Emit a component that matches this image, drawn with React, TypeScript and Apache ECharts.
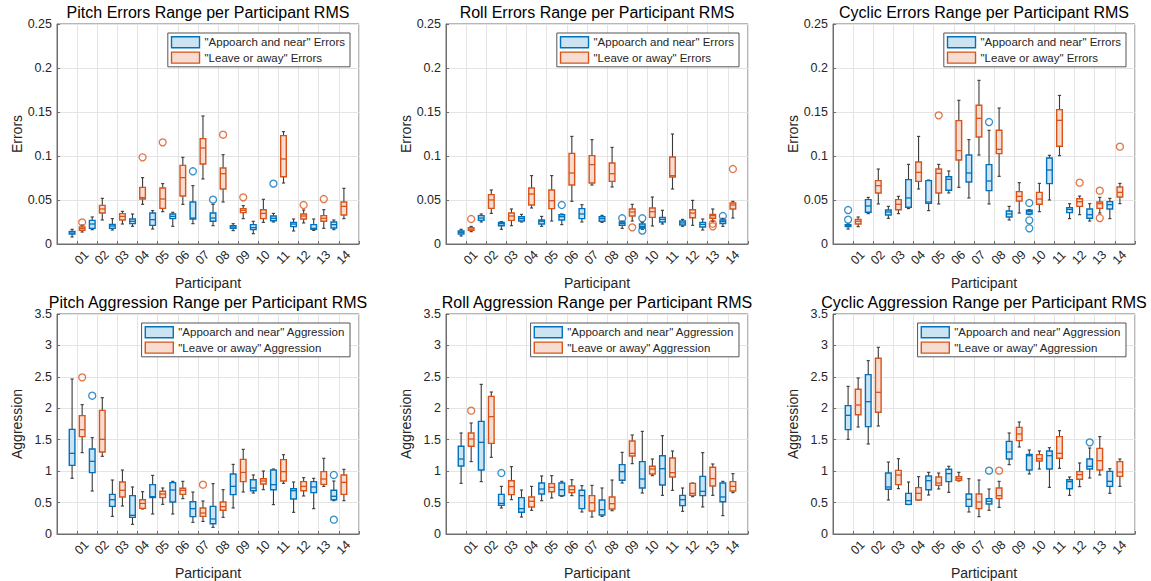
import React, { useEffect, useRef } from 'react';
import * as echarts from 'echarts';

const participants = ['01', '02', '03', '04', '05', '06', '07', '08', '09', '10', '11', '12', '13', '14'];

// each row: [min, q1, median, q3, max]
const pitchErrApp = [
  [0.008, 0.0114, 0.0125, 0.0144, 0.0167], [0.0163, 0.0178, 0.0227, 0.0269, 0.0307], [0.0159, 0.0178, 0.0205, 0.0223, 0.0288],
  [0.0201, 0.0231, 0.0258, 0.0284, 0.0341], [0.017, 0.0212, 0.0277, 0.0352, 0.0379], [0.0201, 0.0288, 0.0314, 0.0341, 0.036],
  [0.0231, 0.0284, 0.0295, 0.0477, 0.0663], [0.0208, 0.0258, 0.0295, 0.0352, 0.0451], [0.0152, 0.0178, 0.0193, 0.0208, 0.0231],
  [0.0117, 0.0163, 0.0186, 0.022, 0.0258], [0.025, 0.0265, 0.0292, 0.0318, 0.0348], [0.0148, 0.0197, 0.0227, 0.0246, 0.0284],
  [0.0155, 0.0167, 0.0178, 0.022, 0.0284], [0.0163, 0.0182, 0.022, 0.025, 0.0273],
];
const pitchErrAppOut = [[7, 0.0826], [8, 0.0504], [11, 0.0686]];
const pitchErrLeave = [
  [0.0136, 0.0155, 0.0174, 0.0193, 0.0216], [0.0273, 0.0352, 0.0398, 0.0439, 0.0519], [0.0227, 0.0273, 0.0314, 0.0345, 0.0371],
  [0.0451, 0.0511, 0.0527, 0.0644, 0.0754], [0.0367, 0.0405, 0.0511, 0.0636, 0.0686], [0.0451, 0.0545, 0.0754, 0.0894, 0.0985],
  [0.0739, 0.0909, 0.1091, 0.1197, 0.1455], [0.0477, 0.0625, 0.0799, 0.0864, 0.1015], [0.0288, 0.0356, 0.0383, 0.0402, 0.0436],
  [0.0246, 0.0288, 0.0348, 0.039, 0.0508], [0.0693, 0.0765, 0.0966, 0.1231, 0.1277], [0.0239, 0.0284, 0.0318, 0.0341, 0.0386],
  [0.0178, 0.0258, 0.0292, 0.0322, 0.039], [0.0288, 0.033, 0.0428, 0.0477, 0.0633],
];
const pitchErrLeaveOut = [[1, 0.0246], [4, 0.0985], [5, 0.1155], [8, 0.1242], [9, 0.053], [12, 0.0443], [13, 0.0511]];

const rollErrApp = [
  [0.0091, 0.0114, 0.0133, 0.0148, 0.0167], [0.025, 0.0269, 0.0295, 0.0322, 0.0341], [0.0167, 0.0208, 0.0231, 0.0246, 0.0254],
  [0.025, 0.0261, 0.0288, 0.031, 0.0337], [0.0201, 0.0227, 0.0258, 0.0273, 0.0314], [0.022, 0.0273, 0.031, 0.0333, 0.0341],
  [0.025, 0.0288, 0.0341, 0.0402, 0.0447], [0.0246, 0.0258, 0.0288, 0.031, 0.0326], [0.0178, 0.0212, 0.0231, 0.025, 0.0261],
  [0.0167, 0.0182, 0.0201, 0.0227, 0.0246], [0.0227, 0.025, 0.028, 0.0303, 0.0383], [0.0201, 0.0216, 0.0239, 0.0261, 0.028],
  [0.0159, 0.0193, 0.0223, 0.0246, 0.0284], [0.0201, 0.0231, 0.0254, 0.0273, 0.0292],
];
const rollErrAppOut = [[6, 0.0443], [9, 0.0292], [10, 0.0292], [10, 0.0152], [14, 0.0318]];
const rollErrLeave = [
  [0.014, 0.0155, 0.017, 0.0186, 0.02], [0.0348, 0.0405, 0.05, 0.0561, 0.0614], [0.0208, 0.0269, 0.0318, 0.0352, 0.0398],
  [0.0409, 0.0443, 0.0568, 0.0636, 0.0777], [0.0261, 0.0402, 0.0492, 0.0614, 0.0777], [0.0485, 0.067, 0.0807, 0.103, 0.1223],
  [0.067, 0.0693, 0.0902, 0.1004, 0.1186], [0.0648, 0.0712, 0.0799, 0.092, 0.1098], [0.0261, 0.0318, 0.0364, 0.0398, 0.0451],
  [0.0205, 0.0303, 0.0367, 0.0409, 0.0534], [0.0625, 0.0761, 0.0777, 0.0989, 0.125], [0.0212, 0.0299, 0.0352, 0.039, 0.0496],
  [0.0258, 0.0292, 0.0322, 0.0337, 0.0398], [0.0295, 0.0398, 0.0443, 0.0466, 0.0485],
];
const rollErrLeaveOut = [[1, 0.0284], [9, 0.0189], [13, 0.0231], [13, 0.0201], [14, 0.0852]];

const cycErrApp = [
  [0.017, 0.0197, 0.0208, 0.022, 0.0227], [0.0345, 0.036, 0.0432, 0.0504, 0.053], [0.0292, 0.033, 0.0364, 0.0386, 0.0428],
  [0.0402, 0.0417, 0.0523, 0.0731, 0.0905], [0.0379, 0.0462, 0.0477, 0.072, 0.0727], [0.058, 0.061, 0.0735, 0.0765, 0.083],
  [0.0523, 0.0705, 0.0807, 0.1011, 0.1186], [0.0455, 0.0606, 0.0716, 0.0902, 0.1292], [0.0273, 0.0307, 0.0341, 0.0375, 0.0428],
  [0.0333, 0.0341, 0.0367, 0.0383, 0.039], [0.05, 0.0686, 0.0841, 0.0977, 0.1008], [0.0288, 0.0356, 0.0394, 0.0413, 0.0458],
  [0.0261, 0.0292, 0.0333, 0.0398, 0.0458], [0.0288, 0.0398, 0.0447, 0.0481, 0.0519],
];
const cycErrAppOut = [[1, 0.0386], [1, 0.0277], [8, 0.1386], [10, 0.0466], [10, 0.0269], [10, 0.0178]];
const cycErrLeave = [
  [0.0197, 0.0227, 0.0258, 0.028, 0.0307], [0.0455, 0.058, 0.0663, 0.072, 0.0852], [0.0345, 0.039, 0.0451, 0.0504, 0.0542],
  [0.0625, 0.0712, 0.0814, 0.0932, 0.1223], [0.0455, 0.058, 0.0803, 0.0852, 0.0905], [0.0644, 0.0955, 0.1061, 0.1402, 0.1633],
  [0.1011, 0.1216, 0.1428, 0.1576, 0.186], [0.0769, 0.1027, 0.1076, 0.1292, 0.1545], [0.0352, 0.0489, 0.0542, 0.0595, 0.0697],
  [0.0367, 0.0451, 0.0511, 0.0587, 0.0689], [0.1004, 0.111, 0.1405, 0.1527, 0.1689], [0.0333, 0.0428, 0.0481, 0.0515, 0.0545],
  [0.0352, 0.0405, 0.0458, 0.0477, 0.053], [0.0458, 0.0534, 0.0587, 0.0648, 0.0689],
];
const cycErrLeaveOut = [[5, 0.1462], [12, 0.0697], [13, 0.0606], [13, 0.0295], [14, 0.1106]];

const pitchAggApp = [
  [0.886, 1.092, 1.283, 1.665, 2.466], [0.684, 0.976, 1.156, 1.352, 1.533], [0.281, 0.44, 0.546, 0.631, 0.859],
  [0.154, 0.265, 0.297, 0.61, 0.748], [0.318, 0.578, 0.594, 0.785, 0.933], [0.318, 0.509, 0.7, 0.817, 0.838],
  [0.186, 0.276, 0.403, 0.514, 0.668], [0.106, 0.164, 0.239, 0.44, 0.801], [0.414, 0.626, 0.758, 0.955, 1.108],
  [0.652, 0.689, 0.732, 0.864, 0.939], [0.467, 0.705, 0.785, 1.018, 1.034], [0.345, 0.557, 0.689, 0.721, 0.827],
  [0.403, 0.658, 0.748, 0.833, 0.886], [0.53, 0.546, 0.6, 0.695, 0.843],
];
const pitchAggAppOut = [[2, 2.2], [14, 0.939], [14, 0.228]];
const pitchAggLeave = [
  [1.294, 1.549, 1.66, 1.883, 2.058], [1.236, 1.305, 1.506, 1.967, 2.169], [0.445, 0.589, 0.695, 0.827, 1.018],
  [0.398, 0.408, 0.488, 0.546, 0.673], [0.472, 0.578, 0.636, 0.679, 0.732], [0.562, 0.631, 0.695, 0.727, 0.838],
  [0.2, 0.281, 0.334, 0.414, 0.525], [0.265, 0.377, 0.435, 0.509, 0.705], [0.668, 0.833, 0.981, 1.188, 1.347],
  [0.705, 0.795, 0.843, 0.88, 1.002], [0.806, 0.843, 0.992, 1.183, 1.262], [0.605, 0.689, 0.758, 0.833, 0.896],
  [0.758, 0.79, 0.875, 0.992, 1.204], [0.53, 0.631, 0.822, 0.939, 1.029],
];
const pitchAggLeaveOut = [[1, 2.492], [7, 0.785]];

const rollAggApp = [
  [0.806, 1.082, 1.193, 1.395, 1.607], [0.833, 1.018, 1.458, 1.792, 2.381], [0.414, 0.456, 0.488, 0.631, 0.758],
  [0.27, 0.345, 0.403, 0.578, 0.7], [0.53, 0.636, 0.716, 0.811, 0.923], [0.599, 0.61, 0.705, 0.811, 0.838],
  [0.35, 0.403, 0.61, 0.695, 0.769], [0.281, 0.302, 0.387, 0.541, 0.732], [0.811, 0.854, 0.992, 1.103, 1.299],
  [0.652, 0.732, 0.875, 1.151, 1.633], [0.615, 0.78, 1.039, 1.246, 1.564], [0.361, 0.451, 0.546, 0.615, 0.732],
  [0.43, 0.61, 0.679, 0.917, 1.294], [0.292, 0.514, 0.589, 0.811, 0.838],
];
const rollAggAppOut = [[3, 0.97]];
const rollAggLeave = [
  [1.151, 1.395, 1.511, 1.607, 1.766], [1.22, 1.442, 1.867, 2.19, 2.259], [0.546, 0.626, 0.753, 0.848, 1.071],
  [0.377, 0.43, 0.52, 0.589, 0.758], [0.573, 0.673, 0.742, 0.801, 0.928], [0.61, 0.658, 0.705, 0.764, 0.864],
  [0.27, 0.366, 0.498, 0.61, 0.774], [0.371, 0.398, 0.483, 0.589, 0.859], [1.119, 1.241, 1.283, 1.48, 1.575],
  [0.928, 0.955, 1.034, 1.077, 1.193], [0.695, 0.907, 0.976, 1.209, 1.32], [0.594, 0.615, 0.647, 0.806, 0.811],
  [0.615, 0.764, 0.88, 1.061, 1.114], [0.658, 0.684, 0.758, 0.833, 0.96],
];
const rollAggLeaveOut = [[1, 1.962]];

const cycAggApp = [
  [1.506, 1.66, 1.888, 2.042, 2.349], [1.432, 1.708, 2.105, 2.535, 2.758], [0.541, 0.711, 0.748, 0.97, 1.145],
  [0.467, 0.472, 0.53, 0.647, 0.827], [0.62, 0.705, 0.848, 0.923, 0.981], [0.663, 0.833, 0.96, 1.029, 1.077],
  [0.35, 0.44, 0.552, 0.636, 0.88], [0.377, 0.477, 0.52, 0.562, 0.716], [1.103, 1.193, 1.305, 1.474, 1.607],
  [0.955, 1.018, 1.246, 1.267, 1.336], [0.742, 1.034, 1.246, 1.32, 1.373], [0.615, 0.721, 0.833, 0.864, 0.907],
  [0.891, 1.034, 1.077, 1.193, 1.368], [0.647, 0.758, 0.838, 0.997, 1.039],
];
const cycAggAppOut = [[8, 1.008], [13, 1.458]];
const cycAggLeave = [
  [1.702, 1.898, 2.052, 2.302, 2.482], [1.718, 1.936, 2.254, 2.795, 2.97], [0.721, 0.785, 0.939, 1.013, 1.198],
  [0.541, 0.541, 0.647, 0.737, 0.912], [0.716, 0.774, 0.811, 0.907, 0.97], [0.843, 0.854, 0.886, 0.912, 0.981],
  [0.276, 0.403, 0.509, 0.636, 0.859], [0.424, 0.562, 0.61, 0.732, 0.838], [1.384, 1.485, 1.591, 1.697, 1.782],
  [1.034, 1.161, 1.198, 1.262, 1.32], [1.045, 1.204, 1.283, 1.549, 1.644], [0.753, 0.87, 0.944, 0.992, 1.13],
  [0.939, 1.018, 1.167, 1.363, 1.549], [0.758, 0.917, 0.986, 1.151, 1.193],
];
const cycAggLeaveOut = [[8, 1.008]];

const errNames = ['"Appoarch and near" Errors', '"Leave or away" Errors'];
const aggNames = ['"Appoarch and near" Aggression', '"Leave or away" Aggression'];

const panels = [
  { title: 'Pitch Errors Range per Participant RMS', yName: 'Errors', yMax: 0.25, yInt: 0.05, names: errNames, app: pitchErrApp, appOut: pitchErrAppOut, leave: pitchErrLeave, leaveOut: pitchErrLeaveOut },
  { title: 'Roll Errors Range per Participant RMS', yName: 'Errors', yMax: 0.25, yInt: 0.05, names: errNames, app: rollErrApp, appOut: rollErrAppOut, leave: rollErrLeave, leaveOut: rollErrLeaveOut },
  { title: 'Cyclic Errors Range per Participant RMS', yName: 'Errors', yMax: 0.25, yInt: 0.05, names: errNames, app: cycErrApp, appOut: cycErrAppOut, leave: cycErrLeave, leaveOut: cycErrLeaveOut },
  { title: 'Pitch Aggression Range per Participant RMS', yName: 'Aggression', yMax: 3.5, yInt: 0.5, names: aggNames, app: pitchAggApp, appOut: pitchAggAppOut, leave: pitchAggLeave, leaveOut: pitchAggLeaveOut },
  { title: 'Roll Aggression Range per Participant RMS', yName: 'Aggression', yMax: 3.5, yInt: 0.5, names: aggNames, app: rollAggApp, appOut: rollAggAppOut, leave: rollAggLeave, leaveOut: rollAggLeaveOut },
  { title: 'Cyclic Aggression Range per Participant RMS', yName: 'Aggression', yMax: 3.5, yInt: 0.5, names: aggNames, app: cycAggApp, appOut: cycAggAppOut, leave: cycAggLeave, leaveOut: cycAggLeaveOut },
];

const W = 1151;
const H = 581;
const LEFTS = [57, 446, 833];
const TOPS = [24, 314];
const PW = 302;
const PH = 220;
const FONT = '"Liberation Sans", Arial, sans-serif';
const TXT = '#262626';
const AX = '#6e6e6e';
const GRID = '#e4e4e4';
const BLUE = '#0072BD';
const ORANGE = '#D95319';
const BLUE_FILL = '#CCE3F2';
const ORANGE_FILL = '#F7DDD1';
const OFFSET = 0.25;
const BOX_W = 0.28;

function makeRender(stroke: string, fill: string) {
  return (params: any, api: any) => {
    const x = api.value(0);
    const lo = api.coord([x, api.value(1)]);
    const q1 = api.coord([x, api.value(2)]);
    const md = api.coord([x, api.value(3)]);
    const q3 = api.coord([x, api.value(4)]);
    const hi = api.coord([x, api.value(5)]);
    const bw = api.size([BOX_W, 0])[0];
    const cx = lo[0];
    const wStyle = { stroke: '#3a3a3a', lineWidth: 1.1 };
    return {
      type: 'group',
      children: [
        { type: 'line', shape: { x1: cx, y1: hi[1], x2: cx, y2: q3[1] }, style: wStyle },
        { type: 'line', shape: { x1: cx, y1: q1[1], x2: cx, y2: lo[1] }, style: wStyle },
        { type: 'line', shape: { x1: cx - 1.6, y1: hi[1], x2: cx + 1.6, y2: hi[1] }, style: wStyle },
        { type: 'line', shape: { x1: cx - 1.6, y1: lo[1], x2: cx + 1.6, y2: lo[1] }, style: wStyle },
        { type: 'rect', shape: { x: cx - bw / 2, y: q3[1], width: bw, height: Math.max(q1[1] - q3[1], 0.5) }, style: { fill, stroke, lineWidth: 1.4 } },
        { type: 'line', shape: { x1: cx - bw / 2, y1: md[1], x2: cx + bw / 2, y2: md[1] }, style: { stroke, lineWidth: 1.3 } },
      ],
    };
  };
}

export default function App() {
  const ref = useRef<HTMLDivElement>(null);
  useEffect(() => {
    if (!ref.current) return;
    const chart = echarts.init(ref.current, null, { renderer: 'svg' });
    const grids: any[] = [];
    const xAxes: any[] = [];
    const yAxes: any[] = [];
    const series: any[] = [];
    const legends: any[] = [];
    const graphics: any[] = [];

    panels.forEach((p, i) => {
      const left = LEFTS[i % 3];
      const top = TOPS[Math.floor(i / 3)];
      grids.push({ left, top, width: PW, height: PH, show: true, borderColor: AX, borderWidth: 1, backgroundColor: '#fff' });
      xAxes.push({
        gridIndex: i, type: 'value', min: 0, max: 15, interval: 1,
        name: 'Participant', nameLocation: 'middle', nameGap: 32,
        nameTextStyle: { fontSize: 14, color: TXT, fontFamily: FONT },
        axisLine: { show: true, onZero: false, lineStyle: { color: AX } },
        axisTick: { show: true, inside: true, length: 3, lineStyle: { color: AX } },
        axisLabel: {
          rotate: 45, fontSize: 12.5, color: TXT, fontFamily: FONT, margin: 9,
          align: 'center', verticalAlign: 'top',
          formatter: (v: number) => (v >= 1 && v <= 14 ? participants[Math.round(v) - 1] : ''),
        },
        splitLine: { show: true, lineStyle: { color: GRID } },
      });
      yAxes.push({
        gridIndex: i, type: 'value', min: 0, max: p.yMax, interval: p.yInt,
        name: p.yName, nameLocation: 'middle', nameGap: 33,
        nameTextStyle: { fontSize: 14, color: TXT, fontFamily: FONT },
        axisLine: { show: true, lineStyle: { color: AX } },
        axisTick: { show: true, inside: true, length: 3, lineStyle: { color: AX } },
        axisLabel: { fontSize: 12.5, color: TXT, fontFamily: FONT, margin: 5 },
        splitLine: { show: true, lineStyle: { color: GRID } },
      });
      series.push({
        type: 'custom', name: p.names[0], xAxisIndex: i, yAxisIndex: i,
        renderItem: makeRender(BLUE, BLUE_FILL),
        itemStyle: { color: BLUE_FILL, borderColor: BLUE, borderWidth: 1.4 },
        encode: { x: 0, y: [1, 2, 3, 4, 5] },
        data: p.app.map((d, j) => [j + 1 - OFFSET, ...d]),
        z: 3,
      });
      series.push({
        type: 'custom', name: p.names[1], xAxisIndex: i, yAxisIndex: i,
        renderItem: makeRender(ORANGE, ORANGE_FILL),
        itemStyle: { color: ORANGE_FILL, borderColor: ORANGE, borderWidth: 1.4 },
        encode: { x: 0, y: [1, 2, 3, 4, 5] },
        data: p.leave.map((d, j) => [j + 1 + OFFSET, ...d]),
        z: 3,
      });
      series.push({
        type: 'scatter', name: 'outA' + i, xAxisIndex: i, yAxisIndex: i,
        symbol: 'circle', symbolSize: 7,
        itemStyle: { color: 'rgba(255,255,255,0)', borderColor: BLUE, borderWidth: 1.3 },
        data: p.appOut.map((d) => [d[0] - OFFSET, d[1]]), z: 4,
      });
      series.push({
        type: 'scatter', name: 'outL' + i, xAxisIndex: i, yAxisIndex: i,
        symbol: 'circle', symbolSize: 7,
        itemStyle: { color: 'rgba(255,255,255,0)', borderColor: ORANGE, borderWidth: 1.3 },
        data: p.leaveOut.map((d) => [d[0] + OFFSET, d[1]]), z: 4,
      });
      legends.push({
        orient: 'vertical', right: W - (left + PW) + 9, top: top + 9,
        itemWidth: 28, itemHeight: 11, itemGap: 3, padding: [3, 5, 3, 3],
        borderColor: '#555', borderWidth: 1, backgroundColor: '#fff', selectedMode: false,
        textStyle: { fontSize: 11.5, color: TXT, fontFamily: FONT },
        data: [
          { name: p.names[0], icon: 'rect', itemStyle: { color: BLUE_FILL, borderColor: BLUE, borderWidth: 1.4 } },
          { name: p.names[1], icon: 'rect', itemStyle: { color: ORANGE_FILL, borderColor: ORANGE, borderWidth: 1.4 } },
        ],
      });
      graphics.push({
        type: 'text', x: left + PW / 2, y: top - 12,
        style: { text: p.title, fill: '#000', font: '16px ' + FONT, textAlign: 'center', textVerticalAlign: 'middle' },
      });
    });

    chart.setOption({
      animation: false,
      backgroundColor: '#fff',
      textStyle: { fontFamily: FONT },
      grid: grids, xAxis: xAxes, yAxis: yAxes, series, legend: legends, graphic: graphics,
    });
    return () => chart.dispose();
  }, []);
  return <div ref={ref} style={{ position: 'fixed', left: 0, top: 0, width: W, height: H, background: '#fff' }} />;
}
